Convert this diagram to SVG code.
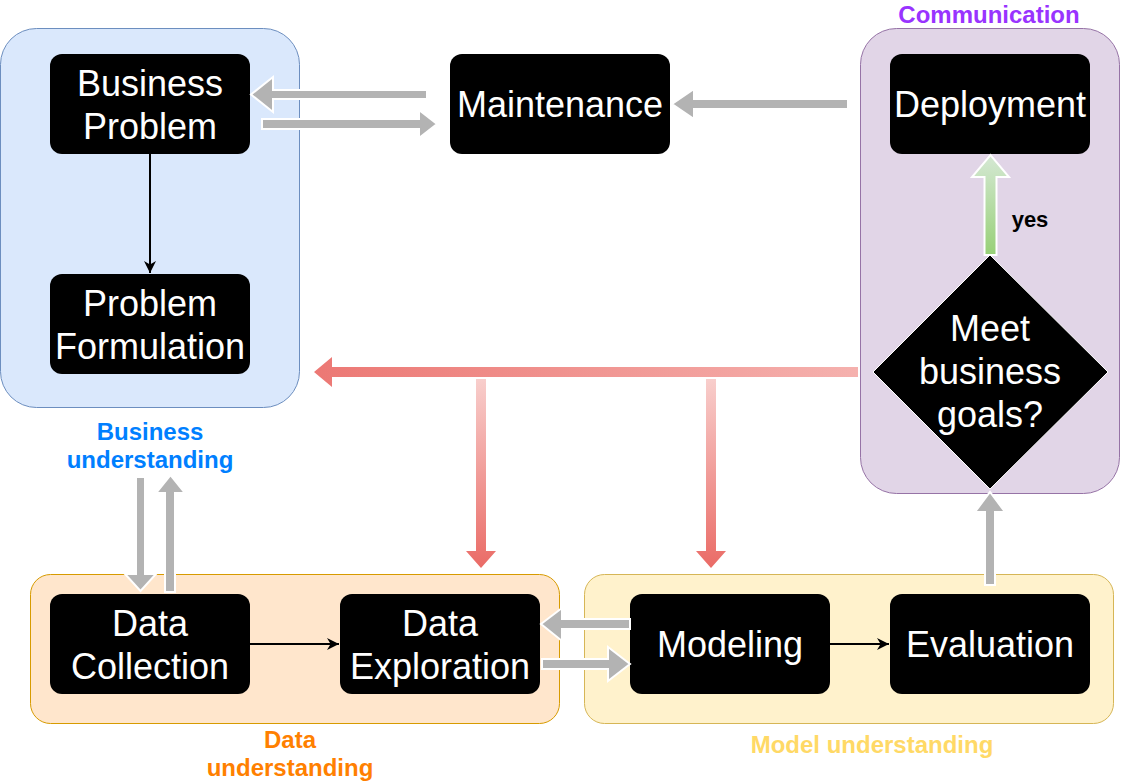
<svg xmlns="http://www.w3.org/2000/svg" width="1121" height="782" viewBox="0 0 1121 782">
  <defs>
    <style>
      .node { fill: #000000; }
      .nt { font-family: "Liberation Sans", Arial, sans-serif; font-size: 36px; fill: #ffffff; text-anchor: middle; }
      .lbl { font-family: "Liberation Sans", Arial, sans-serif; font-size: 24px; font-weight: bold; text-anchor: middle; }
      .gray { fill: #b3b3b3; stroke: #ffffff; stroke-width: 2; stroke-linejoin: miter; }
      .thin { fill: none; stroke: #000000; stroke-width: 2; }
    </style>
    <linearGradient id="redV" x1="0" y1="0" x2="0" y2="1">
      <stop offset="0" stop-color="#f8cecc"/>
      <stop offset="1" stop-color="#ea6b66"/>
    </linearGradient>
    <linearGradient id="redH" x1="1" y1="0" x2="0" y2="0">
      <stop offset="0" stop-color="#f5b1ae"/>
      <stop offset="1" stop-color="#ec7874"/>
    </linearGradient>
    <linearGradient id="greenV" x1="0" y1="0" x2="0" y2="1">
      <stop offset="0" stop-color="#d5e8d4"/>
      <stop offset="1" stop-color="#97d077"/>
    </linearGradient>
    <marker id="arr" viewBox="0 0 10 10" refX="10" refY="5" markerWidth="6" markerHeight="6" orient="auto" markerUnits="strokeWidth">
      <path d="M0,0 L10,5 L0,10 L3,5 Z" fill="#000000"/>
    </marker>
  </defs>

  <g id="containers">
    <rect id="business-understanding" x="0.5" y="28.5" width="299" height="379" rx="36" fill="#dae8fc" stroke="#6c8ebf" stroke-width="1"/>
    <rect id="communication" x="860.5" y="28.5" width="259" height="465" rx="36" fill="#e1d5e7" stroke="#9673a6" stroke-width="1"/>
    <rect id="data-understanding" x="30.5" y="574.5" width="529" height="149" rx="20" fill="#ffe6cc" stroke="#d79b00" stroke-width="1"/>
    <rect id="model-understanding" x="584.5" y="574.5" width="529" height="149" rx="20" fill="#fff2cc" stroke="#d6b656" stroke-width="1"/>
  </g>

  <g id="labels">
    <text class="lbl" x="989" y="23" fill="#9933ff">Communication</text>
    <text class="lbl" x="150" y="440" fill="#007fff">Business<tspan x="150" y="468">understanding</tspan></text>
    <text class="lbl" x="290" y="748" fill="#ff8000">Data<tspan x="290" y="776">understanding</tspan></text>
    <text class="lbl" x="872" y="753" fill="#ffd966">Model understanding</text>
    <text class="lbl" x="1030" y="227" fill="#000000" style="font-size:22px">yes</text>
  </g>

  <g id="node-business-problem">
    <rect class="node" x="50" y="54" width="200" height="100" rx="12"/>
    <text class="nt" x="150" y="96">Business<tspan x="150" y="139">Problem</tspan></text>
  </g>
  <g id="node-problem-formulation">
    <rect class="node" x="50" y="274" width="200" height="100" rx="12"/>
    <text class="nt" x="150" y="316">Problem<tspan x="150" y="359">Formulation</tspan></text>
  </g>
  <g id="node-maintenance">
    <rect class="node" x="450" y="54" width="220" height="100" rx="12"/>
    <text class="nt" x="560" y="117">Maintenance</text>
  </g>
  <g id="node-deployment">
    <rect class="node" x="890" y="54" width="200" height="100" rx="12"/>
    <text class="nt" x="990" y="117">Deployment</text>
  </g>
  <g id="node-decision">
    <polygon points="990,255 1108,372 990,489 873,372" fill="#000000" stroke="#ffffff" stroke-width="1"/>
    <text class="nt" x="990" y="341">Meet<tspan x="990" y="384">business</tspan><tspan x="990" y="427">goals?</tspan></text>
  </g>
  <g id="node-data-collection">
    <rect class="node" x="50" y="594" width="200" height="100" rx="12"/>
    <text class="nt" x="150" y="636">Data<tspan x="150" y="679">Collection</tspan></text>
  </g>
  <g id="node-data-exploration">
    <rect class="node" x="340" y="594" width="200" height="100" rx="12"/>
    <text class="nt" x="440" y="636">Data<tspan x="440" y="679">Exploration</tspan></text>
  </g>
  <g id="node-modeling">
    <rect class="node" x="630" y="594" width="200" height="100" rx="12"/>
    <text class="nt" x="730" y="657">Modeling</text>
  </g>
  <g id="node-evaluation">
    <rect class="node" x="890" y="594" width="200" height="100" rx="12"/>
    <text class="nt" x="990" y="657">Evaluation</text>
  </g>

  <g id="connectors">
    <path class="gray" d="M427,90 L273,90 L273,77 L251,94.5 L273,112 L273,99 L427,99 Z"/>
    <path class="gray" d="M262,119 L419,119 L419,110 L437,124 L419,138 L419,129 L262,129 Z"/>
    <path class="gray" d="M848,99 L694,99 L694,89 L672,104 L694,119 L694,109 L848,109 Z"/>
    <path d="M858,367 L332,367 L332,357 L314,372 L332,387 L332,377 L858,377 Z" fill="url(#redH)"/>
    <path d="M476,379 L476,551 L466,551 L481,568 L496,551 L486,551 L486,379 Z" fill="url(#redV)"/>
    <path d="M706,379 L706,551 L696,551 L711,568 L726,551 L716,551 L716,379 Z" fill="url(#redV)"/>
    <path d="M984.5,255 L984.5,177 L972,177 L990.5,155 L1009,177 L996.5,177 L996.5,255 Z" fill="url(#greenV)" stroke="#ffffff" stroke-width="2"/>
    <path class="gray" d="M985,585 L985,512 L975,512 L990,492 L1005,512 L995,512 L995,585 Z"/>
    <path class="gray" d="M136,477 L136,574 L125,574 L140.5,591 L156,574 L145,574 L145,477 Z"/>
    <path class="gray" d="M165,592 L165,493 L156,493 L170.5,475 L185,493 L175,493 L175,592 Z"/>
    <path class="gray" d="M630,619 L562,619 L562,608 L541,624 L562,641 L562,629 L630,629 Z"/>
    <path class="gray" d="M542,659 L608,659 L608,647 L630,664 L608,681 L608,669 L542,669 Z"/>
    <line class="thin" x1="150" y1="154" x2="150" y2="273" marker-end="url(#arr)"/>
    <line class="thin" x1="250" y1="644" x2="339" y2="644" marker-end="url(#arr)"/>
    <line class="thin" x1="830" y1="644" x2="889" y2="644" marker-end="url(#arr)"/>
  </g>
</svg>
